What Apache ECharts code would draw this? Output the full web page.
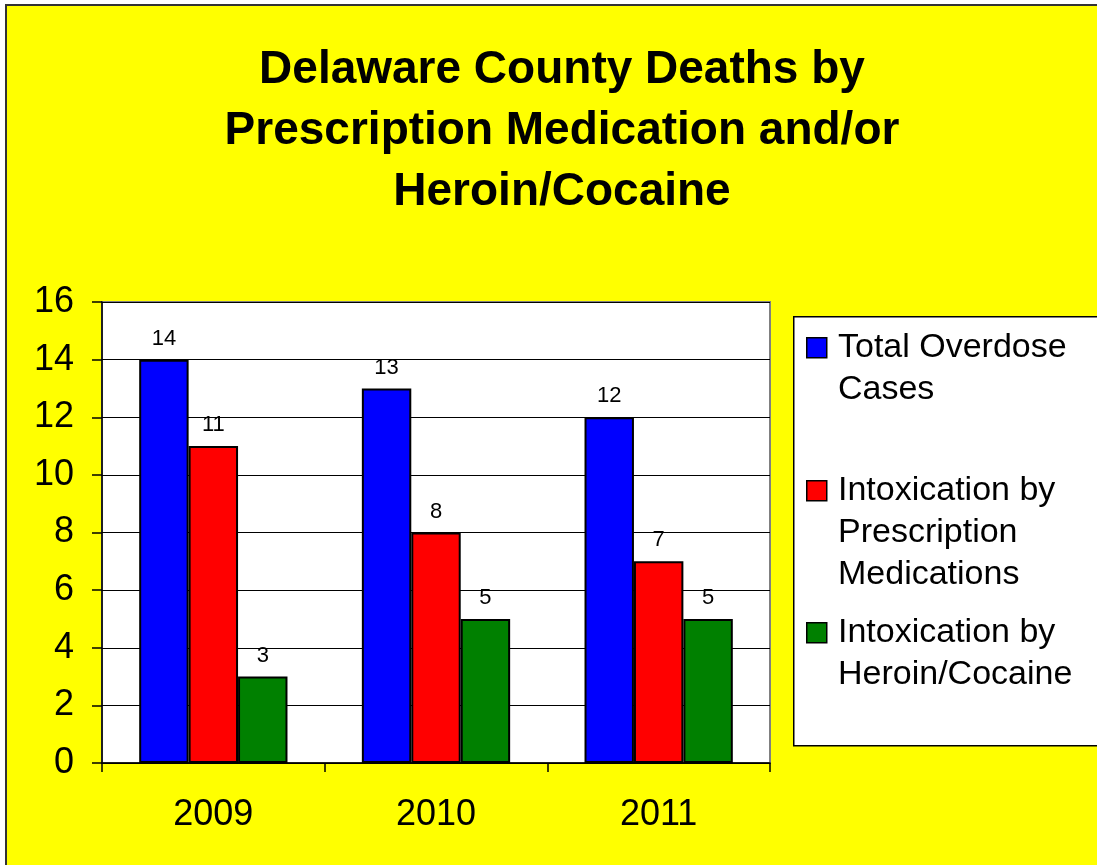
<!DOCTYPE html>
<html>
<head>
<meta charset="utf-8">
<script src="https://cdn.jsdelivr.net/npm/echarts@6/dist/echarts.min.js"></script>
<style>
html,body{margin:0;padding:0;background:#fff;width:1097px;height:865px;overflow:hidden;}
#frame{position:absolute;left:5px;top:4px;width:1100px;height:870px;border-left:2px solid #333;border-top:2px solid #333;background:#ffff00;}
#chart{position:absolute;left:0;top:0;width:1097px;height:865px;}
</style>
</head>
<body>
<div id="frame"></div>
<div id="chart"></div>
<script>
const titleText = 'Delaware County Deaths by\nPrescription Medication and/or\nHeroin/Cocaine';
const categories = ['2009', '2010', '2011'];
const seriesNames = ['Total Overdose\nCases', 'Intoxication by\nPrescription\nMedications', 'Intoxication by\nHeroin/Cocaine'];
const seriesColors = ['#0000ff', '#ff0000', '#008000'];
const totalOverdose = [14, 13, 12];
const prescription = [11, 8, 7];
const heroinCocaine = [3, 5, 5];
const yTicks = [0, 2, 4, 6, 8, 10, 12, 14, 16];

const seriesData = [totalOverdose, prescription, heroinCocaine];
const font = 'Arial, "Liberation Sans", Helvetica, sans-serif';

const chart = echarts.init(document.getElementById('chart'), null, {renderer: 'canvas'});

const legendTops = [327, 470, 612];
const legendGraphics = [{
  type: 'rect', left: 793, top: 316,
  shape: {width: 320, height: 429},
  style: {fill: '#ffffff', stroke: '#000', lineWidth: 1.5}
}];
seriesNames.forEach((n, i) => {
  legendGraphics.push({
    type: 'rect', left: 806, top: legendTops[i] + 10,
    shape: {width: 20, height: 20},
    style: {fill: seriesColors[i], stroke: '#000', lineWidth: 1.5}
  });
  legendGraphics.push({
    type: 'text', left: 838, top: legendTops[i],
    style: {text: n, font: '34px ' + font, lineHeight: 42, fill: '#000'}
  });
});

const option = {
  backgroundColor: 'transparent',
  animation: false,
  title: {
    text: titleText,
    left: 557, top: 35, textAlign: 'center',
    textStyle: {fontFamily: font, fontSize: 46, fontWeight: 'bold', color: '#000', lineHeight: 61}
  },
  grid: {
    left: 102, top: 302, right: 327, bottom: 102,
    show: true, backgroundColor: '#ffffff', borderColor: '#808080', borderWidth: 2
  },
  xAxis: {
    type: 'category',
    data: categories,
    axisLine: {show: true, lineStyle: {color: '#000', width: 1.5}},
    axisTick: {show: true, length: 9, lineStyle: {color: '#000', width: 1.5}},
    axisLabel: {fontFamily: font, fontSize: 36, color: '#000', margin: 34}
  },
  yAxis: {
    type: 'value',
    min: 0, max: 16, interval: 2,
    axisLine: {show: true, lineStyle: {color: '#000', width: 1.5}},
    axisTick: {show: true, length: 10, lineStyle: {color: '#000', width: 1.5}},
    splitLine: {show: true, lineStyle: {color: '#000', width: 1}},
    axisLabel: {fontFamily: font, fontSize: 36, color: '#000', margin: 28,
      formatter: v => yTicks.includes(v) ? String(v) : ''}
  },
  series: seriesData.map((d, i) => ({
    type: 'bar',
    name: seriesNames[i],
    data: d,
    barGap: '0%',
    barCategoryGap: '33.4%',
    itemStyle: {color: seriesColors[i], borderColor: '#000', borderWidth: 2},
    label: {show: true, position: 'top', distance: 10, fontFamily: font, fontSize: 22, color: '#000'}
  })),
  graphic: legendGraphics
};
chart.setOption(option);
</script>
</body>
</html>
